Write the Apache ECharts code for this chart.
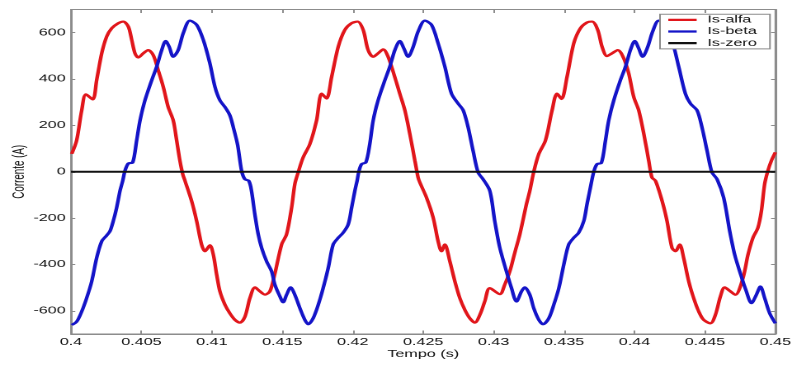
<!DOCTYPE html>
<html>
<head>
<meta charset="utf-8">
<title>Correntes Is-alfa / Is-beta / Is-zero</title>
<script src="https://cdn.jsdelivr.net/npm/echarts@6/dist/echarts.min.js"></script>
<style>
  html, body { margin: 0; padding: 0; background: #fff; overflow: hidden; }
  #wrap { width: 794px; height: 365px; overflow: hidden; position: relative; }
  #chart { position: absolute; left: 0; top: 0; height: 365px; transform-origin: 0 0; }
</style>
</head>
<body>
<div id="wrap"><div id="chart"></div></div>
<script>
// Horizontal stretch of the whole figure (wide lettering, wide strokes)
const SX = 1.65;

// Time (s) and current (A) samples for each component
const tAlfa = [
  0.40005, 0.40040, 0.40076, 0.40106, 0.40154, 0.40182, 0.40218, 0.40253, 0.40289, 0.40336,
  0.40371, 0.40407, 0.40431, 0.40454, 0.40478, 0.40513, 0.40548, 0.40584, 0.40619, 0.40655,
  0.40690, 0.40726, 0.40750, 0.40773, 0.40793, 0.40809, 0.40856, 0.40892, 0.40927, 0.40951,
  0.40986, 0.41010, 0.41034, 0.41057, 0.41093, 0.41128, 0.41164, 0.41199, 0.41235, 0.41270,
  0.41306, 0.41341, 0.41377, 0.41412, 0.41447, 0.41495, 0.41530, 0.41566, 0.41589, 0.41614,
  0.41648, 0.41696, 0.41743, 0.41779, 0.41814, 0.41850, 0.41897, 0.41944, 0.41992, 0.42034,
  0.42074, 0.42109, 0.42145, 0.42180, 0.42216, 0.42251, 0.42287, 0.42334, 0.42370, 0.42405,
  0.42441, 0.42464, 0.42476, 0.42524, 0.42571, 0.42606, 0.42630, 0.42654, 0.42689, 0.42725,
  0.42760, 0.42796, 0.42831, 0.42867, 0.42902, 0.42937, 0.42973, 0.43044, 0.43079, 0.43115,
  0.43150, 0.43186, 0.43233, 0.43257, 0.43285, 0.43321, 0.43368, 0.43415, 0.43450, 0.43482,
  0.43521, 0.43569, 0.43616, 0.43663, 0.43699, 0.43739, 0.43770, 0.43805, 0.43841, 0.43881,
  0.43924, 0.43959, 0.43995, 0.44030, 0.44066, 0.44101, 0.44124, 0.44149, 0.44196, 0.44231,
  0.44266, 0.44291, 0.44321, 0.44349, 0.44385, 0.44420, 0.44456, 0.44491, 0.44539, 0.44574,
  0.44610, 0.44640, 0.44681, 0.44716, 0.44770, 0.44806, 0.44841, 0.44876, 0.44901, 0.44924,
  0.44947, 0.44972, 0.45000
];
const iAlfa = [
  77, 135, 265, 334, 312, 395, 511, 583, 619, 641,
  648, 626, 569, 511, 493, 511, 525, 503, 438, 366,
  279, 221, 135, 48, -10, -39, -126, -213, -314, -343,
  -317, -357, -444, -516, -574, -611, -639, -651, -625, -545,
  -499, -516, -530, -516, -440, -314, -270, -155, -53, 0,
  62, 120, 221, 337, 316, 409, 539, 612, 641, 648,
  612, 525, 496, 511, 528, 496, 431, 337, 265, 164,
  48, -25, -46, -112, -198, -300, -343, -314, -386, -473,
  -545, -596, -632, -651, -618, -560, -502, -528, -487, -430,
  -350, -270, -140, -82, 0, 77, 135, 265, 337, 314,
  409, 554, 619, 644, 648, 612, 539, 499, 511, 525,
  489, 424, 322, 265, 164, 48, -25, -39, -126, -213,
  -328, -343, -314, -372, -473, -545, -603, -639, -654, -618,
  -538, -499, -516, -531, -459, -357, -285, -242, -169, -53,
  4, 48, 84
];

const tBeta = [
  0.40005, 0.40040, 0.40076, 0.40111, 0.40147, 0.40182, 0.40218, 0.40253, 0.40277, 0.40300,
  0.40324, 0.40348, 0.40367, 0.40383, 0.40407, 0.40438, 0.40466, 0.40490, 0.40525, 0.40573,
  0.40608, 0.40644, 0.40672, 0.40697, 0.40726, 0.40761, 0.40797, 0.40844, 0.40892, 0.40939,
  0.40986, 0.41022, 0.41057, 0.41093, 0.41128, 0.41152, 0.41183, 0.41211, 0.41234, 0.41262,
  0.41281, 0.41305, 0.41329, 0.41353, 0.41388, 0.41424, 0.41447, 0.41483, 0.41506, 0.41530,
  0.41559, 0.41589, 0.41625, 0.41660, 0.41684, 0.41719, 0.41755, 0.41790, 0.41826, 0.41861,
  0.41897, 0.41932, 0.41968, 0.41992, 0.42015, 0.42031, 0.42043, 0.42063, 0.42093, 0.42121,
  0.42145, 0.42180, 0.42228, 0.42263, 0.42299, 0.42334, 0.42363, 0.42393, 0.42429, 0.42464,
  0.42512, 0.42559, 0.42606, 0.42654, 0.42701, 0.42748, 0.42784, 0.42819, 0.42854, 0.42890,
  0.42925, 0.42973, 0.43008, 0.43044, 0.43091, 0.43127, 0.43162, 0.43198, 0.43221, 0.43257,
  0.43285, 0.43321, 0.43351, 0.43392, 0.43427, 0.43463, 0.43498, 0.43533, 0.43569, 0.43604,
  0.43640, 0.43663, 0.43687, 0.43711, 0.43734, 0.43765, 0.43794, 0.43817, 0.43853, 0.43900,
  0.43936, 0.43971, 0.44002, 0.44030, 0.44058, 0.44094, 0.44129, 0.44172, 0.44220, 0.44266,
  0.44314, 0.44361, 0.44397, 0.44444, 0.44479, 0.44515, 0.44550, 0.44586, 0.44633, 0.44676,
  0.44711, 0.44747, 0.44794, 0.44830, 0.44865, 0.44894, 0.44924, 0.44960, 0.45000
];
const iBeta = [
  -661, -647, -603, -545, -473, -372, -300, -275, -256, -213,
  -155, -82, -39, 4, 36, 40, 135, 221, 308, 395,
  453, 525, 564, 539, 496, 525, 598, 652, 634, 569,
  467, 366, 308, 279, 243, 192, 115, 4, -32, -39,
  -82, -184, -270, -328, -386, -430, -487, -538, -563, -531,
  -499, -531, -589, -639, -658, -632, -574, -502, -415, -314,
  -285, -263, -227, -155, -82, -39, 0, 33, 40, 120,
  221, 308, 395, 453, 525, 564, 532, 496, 539, 605,
  652, 634, 554, 453, 337, 294, 265, 192, 91, -3,
  -32, -82, -213, -328, -430, -502, -560, -516, -499, -531,
  -589, -639, -658, -632, -574, -502, -401, -314, -285, -263,
  -213, -140, -68, 0, 33, 38, 135, 221, 308, 395,
  453, 525, 564, 532, 496, 539, 605, 652, 634, 569,
  453, 337, 294, 265, 192, 91, -3, -32, -112, -256,
  -357, -430, -516, -567, -531, -495, -545, -611, -654
];

const tZero = [0.40, 0.45];
const iZero = [0, 0];

const yTicks = [-600, -400, -200, 0, 200, 400, 600];

const zip = (t, v) => t.map((x, k) => [x, v[k]]);

const W = 794 / SX;
const el = document.getElementById('chart');
el.style.width = W + 'px';
el.style.transform = 'scaleX(' + SX + ')';

const FONT = "'Liberation Sans', Arial, Helvetica, sans-serif";
const AX = '#8c8c8c';
const TXT = '#111';
const FS = 9.8;

const chart = echarts.init(el, null, { renderer: 'canvas', devicePixelRatio: 2 });

const xBase = {
  type: 'value', min: 0.4, max: 0.45, interval: 0.005,
  axisLine: { show: true, onZero: false, lineStyle: { color: AX, width: 1 } },
  axisTick: { show: true, inside: true, length: 3.5, lineStyle: { color: AX } },
  splitLine: { show: false }
};
const yBase = {
  type: 'value', min: -700, max: 700,
  axisLine: { show: true, onZero: false, lineStyle: { color: AX, width: 1 } },
  axisTick: { show: true, inside: true, length: 2.6, customValues: yTicks, lineStyle: { color: AX } },
  splitLine: { show: false }
};

chart.setOption({
  animation: false,
  backgroundColor: '#fff',
  textStyle: { fontFamily: FONT },
  grid: {
    left: 71 / SX, right: 18.3 / SX, top: 9.5, bottom: 31,
    outerBoundsMode: 'none', containLabel: false,
    show: true, borderColor: AX, borderWidth: 1, backgroundColor: 'transparent'
  },
  legend: {
    orient: 'vertical',
    left: 660 / SX, top: 14.3,
    icon: 'rect',
    itemWidth: 17.2, itemHeight: 2.2, itemGap: 1.6,
    padding: [0.6, 8, 0.8, 5],
    backgroundColor: '#fff', borderColor: AX, borderWidth: 1,
    textStyle: { fontSize: FS, color: TXT, fontFamily: FONT, padding: [0, 0, 0, 1.5] },
    data: ['Is-alfa', 'Is-beta', 'Is-zero']
  },
  xAxis: [
    Object.assign({}, xBase, {
      position: 'bottom',
      name: 'Tempo (s)', nameLocation: 'middle', nameGap: 15.5, nameMoveOverlap: false,
      nameTextStyle: { fontSize: FS, color: TXT, fontFamily: FONT },
      axisLabel: {
        margin: 3.5, fontSize: FS, color: TXT, fontFamily: FONT,
        formatter: v => String(+v.toFixed(3))
      }
    }),
    Object.assign({}, xBase, { position: 'top', axisLabel: { show: false } })
  ],
  yAxis: [
    Object.assign({}, yBase, {
      position: 'left',
      name: 'Corrente (A)', nameLocation: 'middle', nameGap: 26, nameMoveOverlap: false,
      nameTextStyle: { fontSize: FS, color: TXT, fontFamily: FONT },
      axisLabel: { margin: 3.2, fontSize: FS, color: TXT, fontFamily: FONT, customValues: yTicks }
    }),
    Object.assign({}, yBase, { position: 'right', axisLabel: { show: false } })
  ],
  series: [
    {
      name: 'Is-alfa', type: 'line', data: zip(tAlfa, iAlfa),
      symbol: 'none', showSymbol: false, smooth: 0.3,
      lineStyle: { color: '#e1161b', width: 2.2 }, itemStyle: { color: '#e1161b' }, z: 2
    },
    {
      name: 'Is-beta', type: 'line', data: zip(tBeta, iBeta),
      symbol: 'none', showSymbol: false, smooth: 0.3,
      lineStyle: { color: '#1414c8', width: 2.2 }, itemStyle: { color: '#1414c8' }, z: 3
    },
    {
      name: 'Is-zero', type: 'line', data: zip(tZero, iZero),
      symbol: 'none', showSymbol: false,
      lineStyle: { color: '#111', width: 2 }, itemStyle: { color: '#111' }, z: 4
    }
  ]
});
</script>
</body>
</html>
